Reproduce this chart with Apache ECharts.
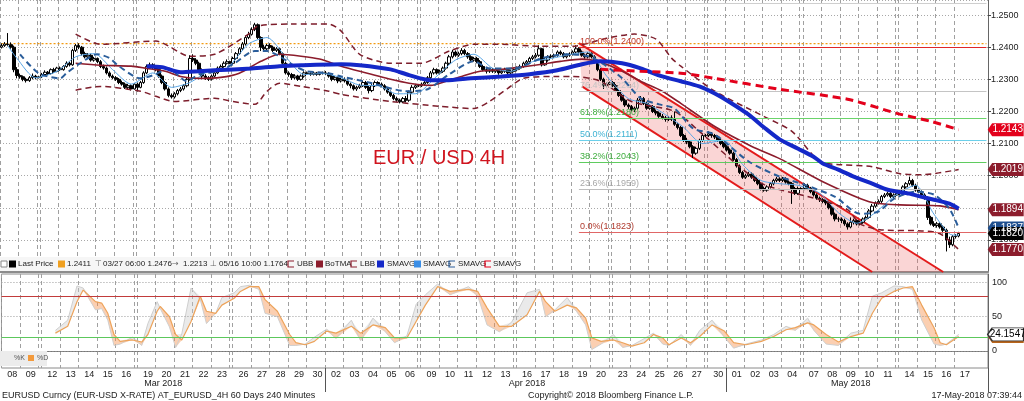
<!DOCTYPE html>
<html><head><meta charset="utf-8">
<script src="https://cdn.jsdelivr.net/npm/echarts@6/dist/echarts.min.js"></script>
<style>html,body{margin:0;padding:0;background:#fff}#c{width:1024px;height:401px}</style>
</head><body><div id="c"></div>
<script>
// ---------------- DATA ----------------
// trading days per month; '|' marks the Sunday-evening bar
const marDays = ['08','09','|','12','13','14','15','16','|','19','20','21','22','23','|','26','27','28','29','30'];
const aprDays = ['02','03','04','05','06','|','09','10','11','12','13','|','16','17','18','19','20','|','23','24','25','26','27','|','30'];
const mayDays = ['01','02','03','04','|','07','08','09','10','11','|','14','15','16','17'];
const monthNames = ['Mar 2018','Apr 2018','May 2018'];
const barsPerDay = 6;
const totalSlots = 320;

// 4H prices in pips (1.xxxx -> xxxx)
const firstOpen = 2400;
const closes = [
 2405,2410,2408,2400,2330,2312, 2308,2300,2296,2305,2310,2305, 2308,
 2315,2322,2318,2330,2325,2335, 2330,2340,2350,2345,2390,2405, 2400,2380,2370,2375,2360,2365,
 2355,2340,2335,2320,2310,2305, 2300,2290,2285,2275,2280,2270, 2285,
 2275,2290,2320,2340,2345,2338, 2330,2310,2290,2270,2250,2245, 2255,2265,2270,2280,2300,2365,
 2360,2350,2330,2310,2305,2300, 2310,2320,2335,2340,2350,2355, 2350,
 2365,2380,2395,2410,2430,2440, 2455,2470,2430,2400,2395,2405, 2400,2390,2395,2380,2350,2320,
 2315,2305,2310,2300,2310,2320, 2318,2315,2320,2315,2318,2320,
 2318,2310,2300,2305,2295,2300, 2295,2285,2280,2270,2275,2280, 2290,2275,2265,2280,2290,2285,
 2280,2270,2260,2250,2240,2235, 2230,2240,2235,2260,2275,2280, 2280,
 2285,2290,2305,2320,2330,2320, 2325,2335,2350,2370,2385,2375, 2380,2390,2380,2370,2360,2365,
 2355,2340,2330,2325,2330,2325, 2330,2320,2325,2330,2320,2325, 2330,
 2335,2340,2350,2355,2365,2370, 2375,2395,2345,2360,2370,2372, 2375,2385,2380,2370,2375,2378,
 2385,2395,2385,2375,2370,2380, 2370,2355,2330,2300,2280,2285, 2290,
 2280,2265,2250,2235,2220,2215, 2205,2210,2235,2240,2225,2210, 2215,2200,2195,2185,2180,2175,
 2180,2175,2160,2150,2125,2110, 2105,2090,2070,2085,2110,2125, 2125,
 2130,2125,2120,2110,2100,2090,
 2080,2070,2050,2030,2010,1995, 2000,2005,1995,1985,1975,1960, 1955,1965,1975,1985,1990,1985,
 1990,1980,1975,1960,1945,1960, 1960,
 1970,1960,1950,1940,1930,1925, 1920,1915,1900,1880,1865,1865, 1860,1850,1840,1855,1860,1850,
 1855,1865,1870,1890,1905,1915, 1920,1935,1940,1945,1935,1940, 1945,
 1950,1965,1975,1985,1970,1955, 1950,1940,1930,1870,1850,1845, 1850,1840,1830,1800,1785,1810,
 1812,1820
];
const highs = [
 2412,2416,2444,2415,2405,2338, 2318,2312,2305,2310,2318,2314, 2311,
 2320,2328,2326,2334,2336,2339, 2340,2344,2356,2355,2395,2410, 2412,2404,2386,2382,2380,2370,
 2368,2360,2346,2340,2325,2315, 2310,2304,2296,2290,2286,2284, 2288,
 2290,2295,2325,2346,2352,2350, 2343,2334,2315,2295,2275,2256, 2260,2270,2276,2285,2305,2375,
 2378,2366,2355,2334,2316,2310, 2315,2325,2340,2346,2356,2362, 2358,
 2370,2385,2400,2416,2436,2448, 2462,2476,2474,2434,2408,2410, 2412,2405,2400,2398,2384,2355,
 2325,2320,2316,2314,2315,2325, 2324,2322,2324,2323,2322,2324,
 2326,2322,2314,2310,2308,2305, 2306,2300,2290,2284,2280,2286, 2296,2295,2280,2285,2296,2294,
 2290,2285,2275,2265,2255,2246, 2240,2245,2248,2265,2282,2286, 2284,
 2290,2296,2310,2326,2336,2334, 2330,2340,2355,2376,2392,2390, 2386,2397,2395,2385,2375,2370,
 2370,2360,2345,2336,2336,2335, 2336,2334,2330,2336,2334,2330, 2333,
 2340,2346,2355,2360,2370,2376, 2382,2406,2398,2366,2375,2378, 2380,2390,2390,2385,2380,2384,
 2390,2406,2400,2390,2380,2385, 2384,2375,2360,2335,2305,2290, 2293,
 2295,2285,2270,2255,2240,2225, 2220,2215,2242,2248,2245,2230, 2222,2220,2206,2200,2192,2186,
 2186,2188,2200,2165,2155,2130, 2118,2110,2095,2090,2115,2130, 2130,
 2138,2136,2130,2125,2115,2105,
 2095,2085,2075,2055,2035,2015, 2006,2012,2010,2000,1990,1980, 1966,1970,1980,1990,1996,1995,
 1996,1995,1985,1980,1965,1966, 1964,
 1976,1975,1965,1955,1945,1935, 1930,1925,1920,1905,1885,1872, 1870,1866,1855,1870,1866,1864,
 1860,1870,1876,1896,1912,1920, 1926,1940,1946,1950,1950,1945, 1948,
 1956,1970,1980,1997,1990,1975, 1960,1955,1945,1935,1875,1858, 1856,1855,1845,1835,1810,1815,
 1818,1825
];
const lows = [
 2396,2401,2403,2395,2322,2303, 2302,2294,2290,2292,2300,2300, 2303,
 2304,2312,2313,2315,2320,2322, 2326,2327,2336,2340,2342,2385, 2394,2374,2365,2364,2355,2355,
 2350,2335,2330,2315,2305,2300, 2295,2285,2280,2270,2268,2265, 2268,
 2262,2272,2286,2316,2335,2332, 2325,2305,2285,2265,2244,2240, 2240,2250,2260,2265,2275,2296,
 2354,2344,2325,2302,2298,2295, 2296,2305,2316,2330,2336,2346, 2347,
 2346,2360,2376,2390,2405,2425, 2436,2450,2425,2388,2388,2390, 2395,2385,2385,2375,2345,2315,
 2308,2298,2300,2295,2296,2305, 2314,2311,2312,2311,2312,2315,
 2313,2305,2294,2296,2288,2290, 2290,2280,2272,2265,2264,2270, 2276,2270,2256,2260,2276,2280,
 2275,2265,2255,2245,2235,2230, 2225,2226,2228,2230,2255,2270, 2276,
 2276,2280,2286,2300,2315,2315, 2315,2320,2330,2345,2365,2370, 2370,2375,2375,2364,2355,2355,
 2350,2335,2325,2318,2320,2320, 2320,2314,2316,2320,2315,2316, 2322,
 2325,2330,2336,2345,2350,2360, 2365,2370,2340,2342,2355,2365, 2366,2370,2375,2365,2365,2370,
 2374,2380,2380,2370,2364,2365, 2365,2350,2325,2295,2270,2275, 2282,
 2275,2260,2245,2230,2214,2208, 2200,2198,2205,2228,2220,2205, 2205,2195,2188,2180,2175,2168,
 2170,2170,2155,2144,2120,2105, 2098,2085,2055,2065,2080,2105, 2120,
 2120,2118,2114,2105,2095,2085,
 2075,2065,2045,2025,2005,1990, 1990,1996,1990,1980,1970,1954, 1950,1950,1960,1970,1980,1980,
 1980,1975,1970,1912,1940,1940, 1956,
 1955,1955,1945,1935,1925,1918, 1914,1908,1895,1875,1858,1856, 1852,1844,1832,1836,1848,1845,
 1845,1850,1860,1866,1886,1900, 1910,1915,1930,1935,1930,1930, 1938,
 1940,1945,1960,1970,1965,1950, 1945,1935,1925,1862,1845,1840, 1838,1835,1820,1764,1775,1780,
 1804,1808
];

// indicator lines, [bar index, price]
const smaShort = [[2,1.2405],[5,1.2365],[11,1.2305],[18,1.2325],[24,1.2370],[30,1.2380],[36,1.2330],[42,1.2285],[49,1.2320],[55,1.2275],[61,1.2290],[67,1.2325],[73,1.2335],[80,1.2410],[86,1.2430],[92,1.2370],[98,1.2315],[104,1.2318],[110,1.2305],[116,1.2282],[122,1.2280],[128,1.2255],[134,1.2255],[141,1.2310],[147,1.2360],[153,1.2378],[159,1.2335],[165,1.2325],[172,1.2355],[178,1.2365],[184,1.2377],[190,1.2385],[196,1.2310],[203,1.2240],[209,1.2225],[215,1.2190],[221,1.2150],[227,1.2100],[234,1.2110],[240,1.2035],[246,1.1985],[252,1.1975],[258,1.1970],[265,1.1945],[271,1.1885],[277,1.1852],[283,1.1885],[289,1.1935],[296,1.1970],[302,1.1880],[308,1.1815],[310,1.1815]];
const smaMid = [[6,1.2378],[12,1.2319],[19,1.2303],[21,1.2319],[25,1.2347],[31,1.2378],[35,1.2366],[38,1.2341],[45,1.2303],[50,1.2316],[54,1.2334],[60,1.2294],[64,1.2316],[70,1.2325],[75,1.2347],[82,1.2388],[86,1.2388],[90,1.2372],[95,1.2341],[99,1.2325],[106,1.2319],[110,1.2309],[120,1.2288],[131,1.2263],[138,1.2269],[145,1.2316],[153,1.2356],[158,1.2334],[166,1.2334],[175,1.2366],[183,1.2378],[190,1.2372],[195,1.2347],[201,1.2303],[207,1.2241],[213,1.2222],[218,1.2209],[224,1.2147],[231,1.2128],[242,1.2044],[252,1.1997],[260,1.1972],[270,1.1934],[278,1.1881],[284,1.1888],[289,1.1928],[296,1.1950],[302,1.1941],[307,1.1897],[310,1.1837]];
const smaLong = [[47,1.2341],[52,1.2338],[58,1.2322],[64,1.2325],[69,1.2328],[81,1.2334],[90,1.2341],[97,1.2344],[110,1.2347],[116,1.2344],[126,1.2331],[132,1.2313],[139,1.2297],[144,1.2297],[152,1.2303],[162,1.2309],[171,1.2316],[180,1.2328],[188,1.2347],[194,1.2356],[201,1.2350],[207,1.2334],[214,1.2309],[220,1.2294],[226,1.2278],[231,1.2256],[236,1.2228],[242,1.2190],[247,1.2150],[252,1.2113],[258,1.2084],[263,1.2059],[266,1.2038],[271,1.2019],[276,1.1997],[282,1.1975],[287,1.1956],[294,1.1944],[298,1.1934],[302,1.1925],[307,1.1913],[310,1.1897]];
const sma200 = [[194,1.2331],[207,1.2325],[220,1.2319],[231,1.2303],[252,1.2269],[274,1.2238],[290,1.2194],[301,1.2169],[310,1.2143]];
const botma = [[24,1.2350],[32,1.2344],[42,1.2341],[47,1.2334],[53,1.2325],[58,1.2309],[64,1.2303],[71,1.2306],[77,1.2319],[84,1.2356],[90,1.2378],[97,1.2372],[103,1.2363],[110,1.2341],[116,1.2325],[126,1.2300],[132,1.2288],[139,1.2281],[144,1.2294],[149,1.2309],[155,1.2325],[162,1.2331],[168,1.2338],[175,1.2347],[181,1.2356],[188,1.2363],[194,1.2353],[201,1.2325],[207,1.2294],[214,1.2263],[220,1.2225],[231,1.2153],[243,1.2091],[252,1.2053],[266,1.1981],[281,1.1919],[291,1.1909],[304,1.1906],[310,1.1894]];
const ubb = [[24,1.2441],[32,1.2409],[50,1.2419],[61,1.2372],[69,1.2378],[80,1.2441],[83,1.2466],[94,1.2472],[106,1.2472],[110,1.2450],[116,1.2378],[126,1.2350],[136,1.2350],[145,1.2388],[153,1.2409],[161,1.2409],[175,1.2403],[185,1.2403],[196,1.2428],[205,1.2441],[212,1.2425],[217,1.2366],[220,1.2341],[231,1.2263],[247,1.2184],[256,1.2138],[265,1.2044],[272,1.2034],[282,1.2028],[291,1.2006],[298,1.2003],[310,1.2019]];
const lbb = [[24,1.2266],[32,1.2278],[45,1.2263],[50,1.2247],[56,1.2231],[69,1.2241],[75,1.2231],[82,1.2222],[86,1.2263],[90,1.2288],[97,1.2278],[106,1.2263],[110,1.2253],[126,1.2231],[142,1.2216],[153,1.2209],[158,1.2231],[164,1.2272],[169,1.2303],[179,1.2309],[185,1.2309],[194,1.2294],[204,1.2231],[218,1.2200],[226,1.2138],[239,1.2028],[247,1.1972],[265,1.1925],[274,1.1894],[278,1.1850],[285,1.1831],[298,1.1828],[304,1.1819],[310,1.1770]];

// trend channel end points
const chanUpper = [[187,1.2413],[305,1.1700]];
const chanLower = [[188,1.2278],[282,1.1700]];
// Fibonacci retracement
const fibStart = 187;
const fibLevels = [['123.6%',1.2536],['100.0%',1.2400],['76.4%',1.2264],['61.8%',1.2180],['50.0%',1.2111],['38.2%',1.2043],['23.6%',1.1959],['0.0%',1.1823]];
const refLevel = 1.2411;

// stochastic [bar index, %K, %D]
const stochRows = [[17,30,26],[21,45,36],[24,95,72],[26,92,89],[30,60,72],[32,62,70],[34,45,55],[36,8,24],[38,10,14],[42,20,16],[45,8,13],[47,40,24],[50,72,58],[51,62,65],[54,35,50],[56,5,24],[58,25,16],[61,92,43],[64,75,80],[66,40,58],[69,55,55],[71,78,67],[75,85,77],[77,94,87],[80,96,94],[83,90,94],[85,55,75],[89,50,58],[93,8,24],[95,8,12],[98,10,9],[101,20,14],[105,32,29],[108,18,26],[113,45,36],[116,15,26],[120,48,38],[124,28,34],[127,12,19],[131,22,19],[134,68,43],[137,82,67],[141,98,94],[145,82,87],[151,94,90],[154,80,87],[157,38,63],[161,28,36],[165,42,36],[170,85,53],[174,90,87],[176,50,72],[179,60,58],[183,78,67],[186,58,63],[189,38,48],[191,2,19],[194,10,14],[198,24,16],[201,5,12],[204,8,7],[208,18,12],[211,26,24],[214,10,19],[216,8,9],[220,24,19],[223,8,12],[226,30,21],[230,45,38],[234,20,29],[237,4,12],[241,10,9],[246,16,14],[250,24,21],[254,36,31],[257,30,34],[261,48,41],[263,30,38],[267,10,24],[271,8,13],[275,26,21],[279,30,26],[282,80,55],[285,85,77],[289,95,87],[292,94,92],[295,90,94],[298,45,67],[302,10,34],[304,8,12],[306,10,9],[310,24.1547,21]];
const stochHi = 80, stochLo = 20;

// ---------------- BUILD ----------------
const cats = [], dayText = [], dayStart = {}, monthTick = {}, monthLabel = {};
let idx = 0;
[marDays, aprDays, mayDays].forEach((list, m) => {
  const first = idx;
  monthTick[idx] = true;
  list.forEach(d => {
    if (d === '|') { dayStart[idx] = true; cats.push(String(idx)); dayText.push(''); idx++; }
    else {
      for (let k = 0; k < barsPerDay; k++) {
        if (k === 0) dayStart[idx] = true;
        cats.push(String(idx)); dayText.push(k === 3 ? d : ''); idx++;
      }
    }
  });
  monthLabel[Math.round((first + idx - 1) / 2)] = monthNames[m];
});
while (idx < totalSlots) { cats.push(String(idx)); dayText.push(''); idx++; }

const P = v => 1 + v / 10000;
const candleData = closes.map((c, i) => {
  const o = i === 0 ? firstOpen : closes[i - 1];
  return [P(o), P(c), P(lows[i]), P(highs[i])];
});
const lastIdx = closes.length - 1;
const lastPrice = P(closes[lastIdx]);

const FONT = '"Liberation Sans", Arial, sans-serif';
function box(val, fill, textColor, border) {
  return {
    symbol: 'path://M0,6L5,0L40,0L40,12L5,12Z', symbolSize: [36, 13], symbolOffset: [47, 0],
    silent: true, animation: false,
    itemStyle: { color: fill, borderColor: border || fill, borderWidth: border ? 1 : 0 },
    label: { show: true, position: 'inside', offset: [2, 0], color: textColor, fontSize: 10, fontFamily: FONT, formatter: () => val.toFixed(4) },
    data: [{ coord: [lastIdx, val] }]
  };
}
const lastOf = a => a[a.length - 1][1];
function lineSeries(name, data, color, width, type, z, extra) {
  return Object.assign({
    name, type: 'line', xAxisIndex: 0, yAxisIndex: 0, data, symbol: 'none', smooth: 0.25, z,
    lineStyle: { color, width, type }, silent: true, animation: false
  }, extra || {});
}

const fibColors = { '123.6%': ['#cfcfcf','#c8c8c8'], '100.0%': ['#e02626','#c0392b'], '76.4%': ['#c4c4c4','#c4c4c4'],
  '61.8%': ['#6bd46b','#3fae3f'], '50.0%': ['#6cd0ea','#3fb3d3'], '38.2%': ['#5fcc5f','#3fae3f'],
  '23.6%': ['#bdbdbd','#a8a8a8'], '0.0%': ['#e06666','#b03a2e'] };
const fibMark = fibLevels.map(([name, lv]) => [
  { coord: [fibStart, lv], lineStyle: { color: fibColors[name][0], width: 1, type: 'solid' },
    label: { show: true, position: 'insideStartTop', distance: [1, 1], formatter: name + '(' + lv.toFixed(4) + ')', color: fibColors[name][1], fontSize: 9, fontFamily: FONT } },
  { coord: [totalSlots - 1, lv] }
]);

const stK = stochRows.map(r => [r[0], r[1]]);
const stD = stochRows.map(r => [r[0], r[2]]);
const stBase = stochRows.map(r => [r[0], Math.min(r[1], r[2])]);
const stOr = stochRows.map(r => [r[0], r[2] > r[1] ? r[2] - r[1] : 0]);
const stGr = stochRows.map(r => [r[0], r[1] > r[2] ? r[1] - r[2] : 0]);

const vSplit = { show: true, interval: (i) => !!dayStart[i], lineStyle: { color: '#a0a0a0', width: 1, type: [4, 3] } };

// legend graphics
const legY = 264;
const g = [];
g.push({ type: 'rect', shape: { x: 0, y: 257, width: 514, height: 14 }, style: { fill: '#f6f6f6' }, z: 50 });
function lt(x, t, col, fam) { g.push({ type: 'text', x, y: legY, z: 51, style: { text: t, fill: col || '#222', font: '8px ' + (fam || FONT), verticalAlign: 'middle' } }); }
function sq(x, col) { g.push({ type: 'rect', z: 51, shape: { x, y: legY - 3.5, width: 7, height: 7 }, style: { fill: col } }); }
function br(x, col) { g.push({ type: 'polyline', z: 51, shape: { points: [[x + 6, legY - 3], [x, legY - 3], [x, legY + 3], [x + 6, legY + 3]] }, style: { stroke: col, lineWidth: 1.2, fill: null } }); }
g.push({ type: 'rect', z: 51, shape: { x: 1, y: legY - 3, width: 6, height: 6 }, style: { fill: '#fff', stroke: '#888', lineWidth: 1 } });
sq(9, '#000'); lt(18, 'Last Price');
sq(58, '#f0a020'); lt(67, '1.2411');
lt(95, '\u22A4', '#666', '"DejaVu Sans"'); lt(103, '03/27 06:00 1.2476');
lt(172, '\u2192', '#666', '"DejaVu Sans"'); lt(183, '1.2213');
lt(210, '\u22A5', '#666', '"DejaVu Sans"'); lt(219, '05/16 10:00 1.1764');
br(288, '#8c1c2c'); lt(297, 'UBB');
sq(316, '#8c1c2c'); lt(325, 'BoTMA');
br(351, '#8c1c2c'); lt(360, 'LBB');
sq(377, '#1428c8'); lt(387, 'SMAVG');
sq(414, '#3a8ee6'); lt(423, 'SMAVG');
br(449, '#2a5d9a'); lt(458, 'SMAVG');
br(485, '#e3001b'); lt(493, 'SMAVG');
// stochastic legend
g.push({ type: 'rect', z: 51, shape: { x: 0, y: 351, width: 47, height: 15 }, style: { fill: '#ececec' } });
g.push({ type: 'text', z: 52, x: 14, y: 358.5, style: { text: '%K', fill: '#555', font: '7px ' + FONT, verticalAlign: 'middle' } });
g.push({ type: 'rect', z: 52, shape: { x: 28, y: 355, width: 6, height: 6 }, style: { fill: '#f39a3c' } });
g.push({ type: 'text', z: 52, x: 37, y: 358.5, style: { text: '%D', fill: '#555', font: '7px ' + FONT, verticalAlign: 'middle' } });
// title and footer
g.push({ type: 'text', z: 60, left: 373, top: 148, style: { text: 'EUR / USD 4H', fill: '#d0141e', font: '20px ' + FONT } });
g.push({ type: 'text', z: 60, left: 2, top: 391, style: { text: 'EURUSD Curncy (EUR-USD X-RATE) AT_EURUSD_4H 60 Days 240 Minutes', fill: '#222', font: '9px ' + FONT } });
g.push({ type: 'text', z: 60, left: 528, top: 391, style: { text: 'Copyright\u00A9 2018 Bloomberg Finance L.P.', fill: '#222', font: '9px ' + FONT } });
g.push({ type: 'text', z: 60, right: 2, top: 391, style: { text: '17-May-2018 07:39:44', fill: '#222', font: '9px ' + FONT } });

const option = {
  animation: false,
  backgroundColor: '#fff',
  grid: [
    { left: 0, right: 36, top: 0, height: 272 },
    { left: 0, right: 36, top: 274, height: 94, show: true, borderColor: '#8a8a8a', borderWidth: 1 }
  ],
  xAxis: [
    { type: 'category', gridIndex: 0, data: cats, boundaryGap: true,
      axisLine: { show: true, lineStyle: { color: '#8c8c8c', width: 2 } }, axisTick: { show: false }, axisLabel: { show: false }, splitLine: vSplit },
    { type: 'category', gridIndex: 1, data: cats, boundaryGap: true, position: 'bottom',
      axisLine: { show: true, lineStyle: { color: '#777' } }, axisTick: { show: false },
      axisLabel: { show: true, interval: 0, margin: 2, fontSize: 9, fontFamily: FONT, color: '#222', formatter: v => dayText[+v] },
      splitLine: vSplit },
    { type: 'category', gridIndex: 1, data: cats, boundaryGap: true, position: 'bottom', offset: 0,
      axisLine: { show: false },
      axisTick: { show: true, interval: (i) => !!monthTick[i] && i > 0, length: 24, lineStyle: { color: '#555', width: 1 } },
      axisLabel: { show: true, interval: (i) => !!monthLabel[i], margin: 11, fontSize: 9, fontFamily: FONT, color: '#222', formatter: v => monthLabel[+v] || '' },
      splitLine: { show: false } }
  ],
  yAxis: [
    { type: 'value', gridIndex: 0, position: 'right', min: 1.17, max: 1.2547, interval: 0.01,
      axisLine: { show: true, lineStyle: { color: '#666' } }, axisTick: { show: true, length: 3, lineStyle: { color: '#444' } },
      axisLabel: { fontSize: 9, fontFamily: FONT, color: '#222', margin: 3, showMinLabel: false, showMaxLabel: false, formatter: v => v.toFixed(4) },
      splitLine: { show: true, lineStyle: { color: '#a8a8a8', type: [1, 2] } } },
    { type: 'value', gridIndex: 1, position: 'right', min: -25, max: 112.5, interval: 25,
      axisLine: { show: true, lineStyle: { color: '#666' } }, axisTick: { show: false },
      axisLabel: { fontSize: 9, fontFamily: FONT, color: '#222', margin: 4, formatter: v => (v >= 0 && v <= 100 && v % 50 === 0) ? String(v) : '' },
      splitLine: { show: false } }
  ],
  graphic: g,
  series: [
    { type: 'custom', xAxisIndex: 0, yAxisIndex: 0, z: 1, silent: true, data: [chanUpper[0]],
      renderItem: (p, api) => ({ type: 'polygon',
        shape: { points: [api.coord(chanUpper[0]), api.coord(chanUpper[1]), api.coord(chanLower[1]), api.coord(chanLower[0])] },
        style: { fill: 'rgba(236,92,92,0.26)' } }) },
    // reference level 1.2411 (orange dotted, full width)
    lineSeries('ref', [[0, refLevel], [totalSlots - 1, refLevel]], '#f29a12', 1.3, [2, 2], 2, { smooth: false }),
    lineSeries('chanU', chanUpper, '#e31b1b', 2, 'solid', 2, { smooth: false,
      markLine: { silent: true, symbol: ['none', 'none'], animation: false, data: fibMark } }),
    lineSeries('chanL', chanLower, '#e31b1b', 2, 'solid', 2, { smooth: false }),
    { type: 'candlestick', xAxisIndex: 0, yAxisIndex: 0, data: candleData, barWidth: 3, z: 3, silent: true,
      itemStyle: { color: '#fff', color0: '#000', borderColor: '#000', borderColor0: '#000', borderWidth: 1 } },
    lineSeries('SMAVG short', smaShort, '#5aa6e6', 1, 'solid', 4),
    lineSeries('UBB', ubb, '#7d1d2b', 1.5, [6, 4], 4, { markPoint: box(lastOf(ubb), '#8c1c2c', '#fff') }),
    lineSeries('LBB', lbb, '#7d1d2b', 1.5, [6, 4], 4, { markPoint: box(lastOf(lbb), '#8c1c2c', '#fff') }),
    lineSeries('BoTMA', botma, '#8c1c2c', 1.6, 'solid', 4, { markPoint: box(lastOf(botma), '#8c1c2c', '#fff') }),
    lineSeries('SMAVG mid', smaMid, '#2a5d9a', 2, [6, 4], 5, { markPoint: box(lastOf(smaMid), '#1f4f8f', '#fff') }),
    lineSeries('SMAVG long', smaLong, '#1428c8', 4, 'solid', 5),
    lineSeries('SMAVG 200', sma200, '#e3001b', 3, [8, 5], 6, { markPoint: box(lastOf(sma200), '#e3001b', '#fff') }),
    lineSeries('Last', [[lastIdx, lastPrice]], 'transparent', 0, 'solid', 10, { markPoint: box(lastPrice, '#000', '#fff') }),
    // stochastic
    { type: 'line', xAxisIndex: 1, yAxisIndex: 1, data: stBase, stack: 'st', symbol: 'none', lineStyle: { opacity: 0 }, silent: true, z: 2 },
    { type: 'line', xAxisIndex: 1, yAxisIndex: 1, data: stOr, stack: 'st', symbol: 'none', lineStyle: { opacity: 0 }, areaStyle: { color: 'rgba(246,140,70,0.6)' }, silent: true, z: 2 },
    { type: 'line', xAxisIndex: 1, yAxisIndex: 1, data: stGr, stack: 'st', symbol: 'none', lineStyle: { opacity: 0 }, areaStyle: { color: 'rgba(200,200,200,0.55)' }, silent: true, z: 2 },
    { type: 'line', xAxisIndex: 1, yAxisIndex: 1, data: stK, symbol: 'none', silent: true, z: 3,
      lineStyle: { color: '#cfcfcf', width: 1 }, markPoint: Object.assign(box(lastOf(stK), '#fff', '#000', '#333'), { z: 20 }) },
    { type: 'line', xAxisIndex: 1, yAxisIndex: 1, data: stD, symbol: 'none', silent: true, z: 3,
      lineStyle: { color: '#eda35a', width: 1.2 },
      markLine: { silent: true, symbol: ['none', 'none'], animation: false, label: { show: false }, data: [
        { yAxis: stochHi, lineStyle: { color: '#c23b3b', width: 1, type: 'solid' } },
        { yAxis: stochLo, lineStyle: { color: '#5cc85c', width: 1, type: 'solid' } },
        { yAxis: 0, lineStyle: { color: '#9a9a9a', width: 1, type: [1, 2] } },
        { yAxis: 50, lineStyle: { color: '#9a9a9a', width: 1, type: [1, 2] } },
        { yAxis: 100, lineStyle: { color: '#9a9a9a', width: 1, type: [1, 2] } }] },
      markPoint: box(lastOf(stD), '#b8651b', '#b8651b') }
  ]
};
const chart = echarts.init(document.getElementById('c'), null, { renderer: 'canvas', width: 1024, height: 401 });
chart.setOption(option);
</script></body></html>
